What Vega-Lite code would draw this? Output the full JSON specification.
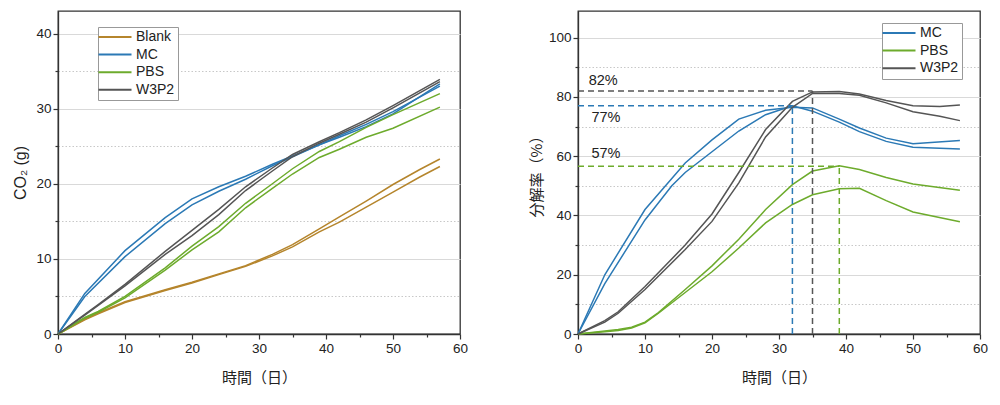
{
  "$schema": "https://vega.github.io/schema/vega-lite/v6.json",
  "padding": {"left": 12, "top": 10, "right": 5, "bottom": 5},
  "background": "white",
  "config": {
    "font": "Liberation Sans",
    "view": {"stroke": "#333", "strokeWidth": 1.3},
    "axis": {
      "domainColor": "#333", "domainWidth": 1.3, "tickColor": "#333", "tickWidth": 1.2,
      "labelColor": "#222", "labelFontSize": 13.5, "labelFont": "Liberation Sans", "labelPadding": 2,
      "titleColor": "#222", "titleFontWeight": "normal", "titleFontSize": 15, "titleFont": "Noto Sans CJK JP",
      "gridColor": "#d9d9d9", "gridWidth": 1
    },
    "legend": {
      "strokeColor": "#999", "fillColor": "white", "padding": 3, "symbolType": "M-3.3,0H3.3",
      "symbolStrokeWidth": 2, "symbolSize": 100, "symbolOffset": 7, "labelFontSize": 14, "labelColor": "#222", "labelFont": "Liberation Sans",
      "rowPadding": 3.6, "labelOffset": 14
    }
  },
  "datasets": {
    "co2": [
      {"s":"Blank","r":"A","d":0,"v":0},{"s":"Blank","r":"A","d":4,"v":2.0},{"s":"Blank","r":"A","d":6,"v":2.8},{"s":"Blank","r":"A","d":10,"v":4.3},{"s":"Blank","r":"A","d":16,"v":5.9},{"s":"Blank","r":"A","d":20,"v":6.9},{"s":"Blank","r":"A","d":24,"v":8.0},{"s":"Blank","r":"A","d":28,"v":9.1},{"s":"Blank","r":"A","d":32,"v":10.6},{"s":"Blank","r":"A","d":35,"v":11.9},{"s":"Blank","r":"A","d":39,"v":14.0},{"s":"Blank","r":"A","d":42,"v":15.6},{"s":"Blank","r":"A","d":46,"v":17.7},{"s":"Blank","r":"A","d":50,"v":19.9},{"s":"Blank","r":"A","d":54,"v":21.9},{"s":"Blank","r":"A","d":57,"v":23.3},
      {"s":"Blank","r":"B","d":0,"v":0},{"s":"Blank","r":"B","d":4,"v":1.9},{"s":"Blank","r":"B","d":6,"v":2.7},{"s":"Blank","r":"B","d":10,"v":4.2},{"s":"Blank","r":"B","d":16,"v":5.8},{"s":"Blank","r":"B","d":20,"v":6.8},{"s":"Blank","r":"B","d":24,"v":7.9},{"s":"Blank","r":"B","d":28,"v":9.0},{"s":"Blank","r":"B","d":32,"v":10.4},{"s":"Blank","r":"B","d":35,"v":11.6},{"s":"Blank","r":"B","d":39,"v":13.6},{"s":"Blank","r":"B","d":42,"v":14.9},{"s":"Blank","r":"B","d":46,"v":16.9},{"s":"Blank","r":"B","d":50,"v":18.9},{"s":"Blank","r":"B","d":54,"v":20.9},{"s":"Blank","r":"B","d":57,"v":22.3},
      {"s":"MC","r":"A","d":0,"v":0},{"s":"MC","r":"A","d":4,"v":5.4},{"s":"MC","r":"A","d":10,"v":11.1},{"s":"MC","r":"A","d":16,"v":15.5},{"s":"MC","r":"A","d":20,"v":18.0},{"s":"MC","r":"A","d":24,"v":19.6},{"s":"MC","r":"A","d":28,"v":21.0},{"s":"MC","r":"A","d":32,"v":22.6},{"s":"MC","r":"A","d":35,"v":23.7},{"s":"MC","r":"A","d":39,"v":25.2},{"s":"MC","r":"A","d":42,"v":26.2},{"s":"MC","r":"A","d":46,"v":27.6},{"s":"MC","r":"A","d":50,"v":29.3},{"s":"MC","r":"A","d":57,"v":33.3},
      {"s":"MC","r":"B","d":0,"v":0},{"s":"MC","r":"B","d":4,"v":5.0},{"s":"MC","r":"B","d":10,"v":10.3},{"s":"MC","r":"B","d":16,"v":14.7},{"s":"MC","r":"B","d":20,"v":17.2},{"s":"MC","r":"B","d":24,"v":19.0},{"s":"MC","r":"B","d":28,"v":20.6},{"s":"MC","r":"B","d":32,"v":22.4},{"s":"MC","r":"B","d":35,"v":23.6},{"s":"MC","r":"B","d":39,"v":25.2},{"s":"MC","r":"B","d":42,"v":26.4},{"s":"MC","r":"B","d":46,"v":27.9},{"s":"MC","r":"B","d":50,"v":29.6},{"s":"MC","r":"B","d":57,"v":33.0},
      {"s":"PBS","r":"A","d":0,"v":0},{"s":"PBS","r":"A","d":4,"v":2.2},{"s":"PBS","r":"A","d":6,"v":3.0},{"s":"PBS","r":"A","d":10,"v":5.0},{"s":"PBS","r":"A","d":16,"v":8.8},{"s":"PBS","r":"A","d":20,"v":11.7},{"s":"PBS","r":"A","d":24,"v":14.3},{"s":"PBS","r":"A","d":28,"v":17.4},{"s":"PBS","r":"A","d":32,"v":20.0},{"s":"PBS","r":"A","d":35,"v":22.0},{"s":"PBS","r":"A","d":39,"v":24.3},{"s":"PBS","r":"A","d":42,"v":25.6},{"s":"PBS","r":"A","d":46,"v":27.5},{"s":"PBS","r":"A","d":50,"v":29.2},{"s":"PBS","r":"A","d":57,"v":32.0},
      {"s":"PBS","r":"B","d":0,"v":0},{"s":"PBS","r":"B","d":4,"v":2.1},{"s":"PBS","r":"B","d":6,"v":2.9},{"s":"PBS","r":"B","d":10,"v":4.8},{"s":"PBS","r":"B","d":16,"v":8.5},{"s":"PBS","r":"B","d":20,"v":11.2},{"s":"PBS","r":"B","d":24,"v":13.6},{"s":"PBS","r":"B","d":28,"v":16.8},{"s":"PBS","r":"B","d":32,"v":19.4},{"s":"PBS","r":"B","d":35,"v":21.3},{"s":"PBS","r":"B","d":39,"v":23.5},{"s":"PBS","r":"B","d":42,"v":24.6},{"s":"PBS","r":"B","d":46,"v":26.2},{"s":"PBS","r":"B","d":50,"v":27.4},{"s":"PBS","r":"B","d":57,"v":30.2},
      {"s":"W3P2","r":"A","d":0,"v":0},{"s":"W3P2","r":"A","d":4,"v":2.6},{"s":"W3P2","r":"A","d":6,"v":3.9},{"s":"W3P2","r":"A","d":10,"v":6.6},{"s":"W3P2","r":"A","d":16,"v":11.0},{"s":"W3P2","r":"A","d":20,"v":13.8},{"s":"W3P2","r":"A","d":24,"v":16.6},{"s":"W3P2","r":"A","d":28,"v":19.6},{"s":"W3P2","r":"A","d":32,"v":22.1},{"s":"W3P2","r":"A","d":35,"v":23.9},{"s":"W3P2","r":"A","d":39,"v":25.6},{"s":"W3P2","r":"A","d":42,"v":26.8},{"s":"W3P2","r":"A","d":46,"v":28.5},{"s":"W3P2","r":"A","d":50,"v":30.4},{"s":"W3P2","r":"A","d":57,"v":33.9},
      {"s":"W3P2","r":"B","d":0,"v":0},{"s":"W3P2","r":"B","d":4,"v":2.5},{"s":"W3P2","r":"B","d":6,"v":3.8},{"s":"W3P2","r":"B","d":10,"v":6.4},{"s":"W3P2","r":"B","d":16,"v":10.6},{"s":"W3P2","r":"B","d":20,"v":13.1},{"s":"W3P2","r":"B","d":24,"v":15.9},{"s":"W3P2","r":"B","d":28,"v":19.1},{"s":"W3P2","r":"B","d":32,"v":21.7},{"s":"W3P2","r":"B","d":35,"v":23.6},{"s":"W3P2","r":"B","d":39,"v":25.4},{"s":"W3P2","r":"B","d":42,"v":26.6},{"s":"W3P2","r":"B","d":46,"v":28.2},{"s":"W3P2","r":"B","d":50,"v":30.1},{"s":"W3P2","r":"B","d":57,"v":33.6}
    ],
    "rate": [
      {"s":"MC","r":"A","d":0,"v":0},{"s":"MC","r":"A","d":4,"v":20},{"s":"MC","r":"A","d":10,"v":42},{"s":"MC","r":"A","d":16,"v":57.7},{"s":"MC","r":"A","d":20,"v":65.5},{"s":"MC","r":"A","d":24,"v":72.5},{"s":"MC","r":"A","d":28,"v":75.5},{"s":"MC","r":"A","d":32,"v":76.5},{"s":"MC","r":"A","d":35,"v":76.3},{"s":"MC","r":"A","d":39,"v":72.5},{"s":"MC","r":"A","d":42,"v":69.5},{"s":"MC","r":"A","d":46,"v":66.1},{"s":"MC","r":"A","d":50,"v":64.2},{"s":"MC","r":"A","d":57,"v":65.3},
      {"s":"MC","r":"B","d":0,"v":0},{"s":"MC","r":"B","d":4,"v":17},{"s":"MC","r":"B","d":10,"v":38.5},{"s":"MC","r":"B","d":14,"v":50},{"s":"MC","r":"B","d":16,"v":54.5},{"s":"MC","r":"B","d":20,"v":61.5},{"s":"MC","r":"B","d":24,"v":68.5},{"s":"MC","r":"B","d":28,"v":74},{"s":"MC","r":"B","d":32,"v":77},{"s":"MC","r":"B","d":35,"v":75.2},{"s":"MC","r":"B","d":39,"v":71.5},{"s":"MC","r":"B","d":42,"v":68.3},{"s":"MC","r":"B","d":46,"v":65},{"s":"MC","r":"B","d":50,"v":63},{"s":"MC","r":"B","d":57,"v":62.4},
      {"s":"PBS","r":"A","d":0,"v":0},{"s":"PBS","r":"A","d":4,"v":1.0},{"s":"PBS","r":"A","d":6,"v":1.5},{"s":"PBS","r":"A","d":8,"v":2.3},{"s":"PBS","r":"A","d":10,"v":4.0},{"s":"PBS","r":"A","d":12,"v":7.2},{"s":"PBS","r":"A","d":16,"v":15},{"s":"PBS","r":"A","d":20,"v":23},{"s":"PBS","r":"A","d":24,"v":32},{"s":"PBS","r":"A","d":28,"v":42},{"s":"PBS","r":"A","d":32,"v":50.4},{"s":"PBS","r":"A","d":35,"v":55},{"s":"PBS","r":"A","d":39,"v":56.8},{"s":"PBS","r":"A","d":42,"v":55.5},{"s":"PBS","r":"A","d":46,"v":52.8},{"s":"PBS","r":"A","d":50,"v":50.6},{"s":"PBS","r":"A","d":57,"v":48.5},
      {"s":"PBS","r":"B","d":0,"v":0},{"s":"PBS","r":"B","d":4,"v":0.8},{"s":"PBS","r":"B","d":6,"v":1.2},{"s":"PBS","r":"B","d":8,"v":2.0},{"s":"PBS","r":"B","d":10,"v":3.8},{"s":"PBS","r":"B","d":12,"v":7.0},{"s":"PBS","r":"B","d":16,"v":14},{"s":"PBS","r":"B","d":20,"v":21},{"s":"PBS","r":"B","d":24,"v":29},{"s":"PBS","r":"B","d":28,"v":37.5},{"s":"PBS","r":"B","d":32,"v":43.7},{"s":"PBS","r":"B","d":35,"v":47},{"s":"PBS","r":"B","d":39,"v":49},{"s":"PBS","r":"B","d":42,"v":49.2},{"s":"PBS","r":"B","d":46,"v":45},{"s":"PBS","r":"B","d":50,"v":41.2},{"s":"PBS","r":"B","d":57,"v":37.9},
      {"s":"W3P2","r":"A","d":0,"v":0},{"s":"W3P2","r":"A","d":4,"v":4.5},{"s":"W3P2","r":"A","d":6,"v":7.5},{"s":"W3P2","r":"A","d":10,"v":16},{"s":"W3P2","r":"A","d":16,"v":30},{"s":"W3P2","r":"A","d":20,"v":40.5},{"s":"W3P2","r":"A","d":24,"v":54.5},{"s":"W3P2","r":"A","d":28,"v":69},{"s":"W3P2","r":"A","d":32,"v":78.5},{"s":"W3P2","r":"A","d":35,"v":81.7},{"s":"W3P2","r":"A","d":39,"v":81.8},{"s":"W3P2","r":"A","d":42,"v":81},{"s":"W3P2","r":"A","d":46,"v":78.8},{"s":"W3P2","r":"A","d":50,"v":77},{"s":"W3P2","r":"A","d":54,"v":76.8},{"s":"W3P2","r":"A","d":57,"v":77.3},
      {"s":"W3P2","r":"B","d":0,"v":0},{"s":"W3P2","r":"B","d":4,"v":4},{"s":"W3P2","r":"B","d":6,"v":7},{"s":"W3P2","r":"B","d":10,"v":15},{"s":"W3P2","r":"B","d":16,"v":28.5},{"s":"W3P2","r":"B","d":20,"v":38},{"s":"W3P2","r":"B","d":24,"v":51},{"s":"W3P2","r":"B","d":28,"v":66.5},{"s":"W3P2","r":"B","d":32,"v":76.5},{"s":"W3P2","r":"B","d":35,"v":81.2},{"s":"W3P2","r":"B","d":39,"v":81.2},{"s":"W3P2","r":"B","d":42,"v":80.6},{"s":"W3P2","r":"B","d":46,"v":78},{"s":"W3P2","r":"B","d":50,"v":75},{"s":"W3P2","r":"B","d":54,"v":73.5},{"s":"W3P2","r":"B","d":57,"v":72}
    ],
    "refs": [
      {"s":"W3P2","x":0,"x2":35,"y":82,"y2":82},{"s":"W3P2","x":35,"x2":35,"y":0,"y2":82},
      {"s":"MC","x":0,"x2":32,"y":77,"y2":77},{"s":"MC","x":32,"x2":32,"y":0,"y2":77},
      {"s":"PBS","x":0,"x2":39,"y":56.6,"y2":56.6},{"s":"PBS","x":39,"x2":39,"y":0,"y2":56.6}
    ],
    "labels": [
      {"x":1.6,"y":85.5,"t":"82%"},{"x":2.0,"y":73,"t":"77%"},{"x":2.0,"y":60.6,"t":"57%"}
    ]
  },
  "hconcat": [
    {
      "width": 402, "height": 323,
      "data": {"name": "co2"},
      "layer": [
        {
          "mark": {"type": "line", "strokeWidth": 1.5},
          "encoding": {
            "x": {"field": "d", "type": "quantitative", "scale": {"domain": [0, 60], "nice": false},
              "axis": {"values": [0,10,20,30,40,50,60], "grid": false, "tickSize": 5, "title": "時間（日）", "titlePadding": 16, "labelFlush": false}},
            "y": {"field": "v", "type": "quantitative", "scale": {"domain": [0, 43], "nice": false},
              "axis": {"values": [0,10,20,30,40], "grid": true, "tickSize": 5, "title": "CO₂ (g)", "titleFont": "Liberation Sans", "titleFontSize": 16, "titlePadding": 7}},
            "color": {"field": "s", "type": "nominal",
              "scale": {"domain": ["Blank","MC","PBS","W3P2"], "range": ["#b5852c","#2b79b5","#6dab2c","#555555"]},
              "legend": {"title": null, "orient": "none", "legendX": 40, "legendY": 16}},
            "detail": {"field": "r"}
          }
        },
        {
          "mark": {"type": "point", "opacity": 0},
          "encoding": {
            "x": {"field": "d", "type": "quantitative",
              "axis": {"orient": "bottom", "values": [5,15,25,35,45,55], "labels": false, "grid": false, "tickSize": 3, "domain": false, "title": null}},
            "y": {"field": "v", "type": "quantitative",
              "axis": {"orient": "left", "values": [5,15,25,35], "labels": false, "grid": true, "gridDash": [1.5,2], "gridColor": "#c8c8c8", "tickSize": 3, "domain": false, "title": null}}
          }
        }
      ],
      "resolve": {"axis": {"x": "independent", "y": "independent"}}
    },
    {
      "width": 402, "height": 323,
      "layer": [
        {
          "data": {"name": "rate"},
          "mark": {"type": "line", "strokeWidth": 1.5},
          "encoding": {
            "x": {"field": "d", "type": "quantitative", "scale": {"domain": [0, 60], "nice": false},
              "axis": {"values": [0,10,20,30,40,50,60], "grid": false, "tickSize": 5, "title": "時間（日）", "titlePadding": 16, "labelFlush": false}},
            "y": {"field": "v", "type": "quantitative", "scale": {"domain": [0, 109], "nice": false},
              "axis": {"values": [0,20,40,60,80,100], "grid": true, "tickSize": 5, "title": "分解率（%）", "titlePadding": 4}},
            "color": {"field": "s", "type": "nominal",
              "scale": {"domain": ["MC","PBS","W3P2"], "range": ["#2b79b5","#6dab2c","#555555"]},
              "legend": {"title": null, "orient": "none", "legendX": 304, "legendY": 12}},
            "detail": {"field": "r"}
          }
        },
        {
          "data": {"name": "rate"},
          "mark": {"type": "point", "opacity": 0},
          "encoding": {
            "x": {"field": "d", "type": "quantitative",
              "axis": {"orient": "bottom", "values": [5,15,25,35,45,55], "labels": false, "grid": false, "tickSize": 3, "domain": false, "title": null}},
            "y": {"field": "v", "type": "quantitative",
              "axis": {"orient": "left", "values": [10,30,50,70,90], "labels": false, "grid": true, "gridDash": [1.5,2], "gridColor": "#c8c8c8", "tickSize": 3, "domain": false, "title": null}}
          }
        },
        {
          "data": {"name": "refs"},
          "mark": {"type": "rule", "strokeWidth": 1.5, "strokeDash": [6, 4]},
          "encoding": {
            "x": {"field": "x", "type": "quantitative", "axis": null},
            "x2": {"field": "x2"},
            "y": {"field": "y", "type": "quantitative", "axis": null},
            "y2": {"field": "y2"},
            "color": {"field": "s", "type": "nominal", "legend": null}
          }
        },
        {
          "data": {"name": "labels"},
          "mark": {"type": "text", "align": "left", "baseline": "middle", "fontSize": 14.5, "color": "#222", "font": "Liberation Sans"},
          "encoding": {
            "x": {"field": "x", "type": "quantitative", "axis": null},
            "y": {"field": "y", "type": "quantitative", "axis": null},
            "text": {"field": "t"}
          }
        }
      ],
      "resolve": {"axis": {"x": "independent", "y": "independent"}}
    }
  ],
  "spacing": 118,
  "bounds": "flush",
  "resolve": {"scale": {"color": "independent"}, "legend": {"color": "independent"}}
}
